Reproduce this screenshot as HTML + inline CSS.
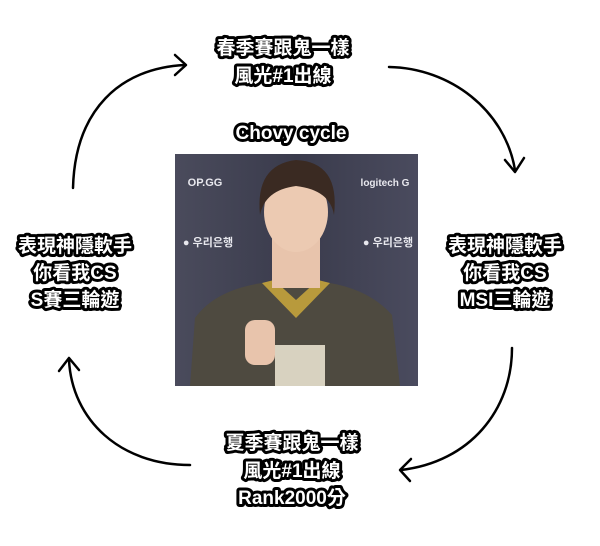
<!DOCTYPE html>
<html><head><meta charset="utf-8"><style>
html,body{margin:0;padding:0;background:#fff;}
svg{display:block}
text{font-family:"Liberation Sans","Noto Sans CJK TC",sans-serif;font-weight:bold;font-size:19px;fill:#fff;stroke:#000;stroke-width:6px;paint-order:stroke;stroke-linejoin:round;text-anchor:middle}
</style></head><body>
<svg width="600" height="546" viewBox="0 0 600 546">
<defs>
<linearGradient id="bg" x1="0" y1="0" x2="1" y2="0"><stop offset="0" stop-color="#4a4b5c"/><stop offset="0.5" stop-color="#3a3b4c"/><stop offset="1" stop-color="#4a4b5e"/></linearGradient>
</defs>
<g fill="none" stroke="#000" stroke-width="2.5" stroke-linecap="round" stroke-linejoin="round">
<path d="M73 188 C75 110 120 68 185 65"/><path d="M175 55 L186 65 L175 75"/>
<path d="M389 67 C450 68 505 110 515 170"/><path d="M505 160 L515 172 L524 158"/>
<path d="M512 348 C512 410 470 462 401 470"/><path d="M411 459 L400 470 L410 481"/>
<path d="M190 465 C120 465 72 420 69 360"/><path d="M59 371 L69 358 L79 370"/>
</g>
<g>
<rect x="175" y="154" width="243" height="232" fill="url(#bg)"/>
<text x="205" y="186" style="stroke:none;font-size:11px;fill:#e8e8ee">OP.GG</text>
<text x="385" y="186" style="stroke:none;font-size:10px;fill:#e8e8ee">logitech G</text>
<text x="208" y="246" style="stroke:none;font-size:11px;fill:#e8e8ee">● 우리은행</text>
<text x="388" y="246" style="stroke:none;font-size:11px;fill:#e8e8ee">● 우리은행</text>
<path d="M190 386 L195 318 Q215 290 262 283 L330 283 Q370 290 392 315 L400 386Z" fill="#4e4a40"/>
<path d="M262 283 L296 318 L330 283 L318 280 L296 300 L274 280Z" fill="#b89a3c"/>
<rect x="272" y="230" width="48" height="58" fill="#e8c4ac"/>
<ellipse cx="296" cy="212" rx="32" ry="40" fill="#eccab2"/>
<path d="M260 215 Q255 165 296 160 Q340 162 334 215 Q330 190 296 186 Q265 190 260 215Z" fill="#3a2a22"/>
<rect x="245" y="320" width="30" height="45" rx="10" fill="#e8c4ac"/>
<rect x="275" y="345" width="50" height="41" fill="#d8d2c0"/>
</g>
<text x="283" y="54">春季賽跟鬼一樣</text>
<text x="283" y="82">風光#1出線</text>
<text x="291" y="139">Chovy cycle</text>
<text x="75" y="252">表現神隱軟手</text>
<text x="75" y="279">你看我CS</text>
<text x="75" y="306">S賽三輪遊</text>
<text x="505" y="252">表現神隱軟手</text>
<text x="505" y="279">你看我CS</text>
<text x="505" y="306">MSI三輪遊</text>
<text x="292" y="449">夏季賽跟鬼一樣</text>
<text x="292" y="477">風光#1出線</text>
<text x="292" y="504">Rank2000分</text>
</svg>
</body></html>
